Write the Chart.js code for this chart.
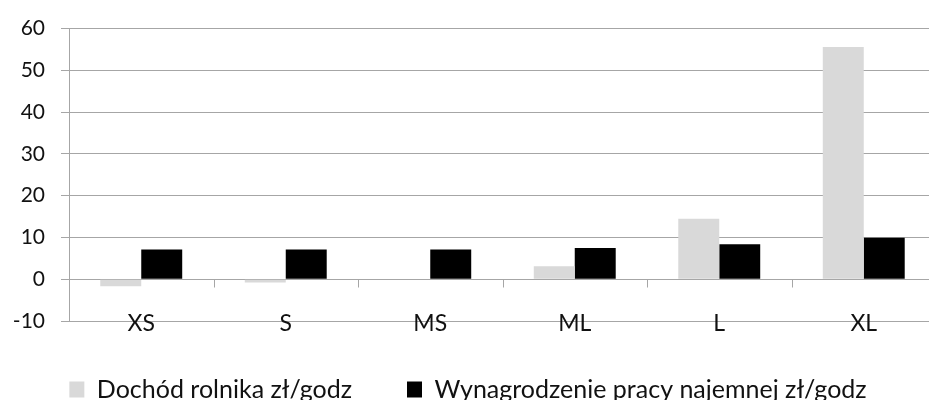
<!DOCTYPE html>
<html>
<head>
<meta charset="utf-8">
<script src="https://cdn.jsdelivr.net/npm/chart.js@4/dist/chart.umd.min.js"></script>
<style>
  html, body { margin: 0; padding: 0; background: #fff; overflow: hidden; }
  #wrap { position: relative; width: 936px; height: 412px; }
</style>
</head>
<body>
<div id="wrap"><canvas id="myChart"></canvas></div>
<script>
// data
const categories = ['XS', 'S', 'MS', 'ML', 'L', 'XL'];
const farmerIncome = [-1.7, -0.8, 0, 3.1, 14.5, 55.6];
const hiredWage = [7.1, 7.1, 7.1, 7.5, 8.4, 9.9];
const seriesNames = ['Dochód rolnika zł/godz', 'Wynagrodzenie pracy najemnej zł/godz'];
const yTicks = [-10, 0, 10, 20, 30, 40, 50, 60];

const gridColor = '#a6a6a6';
const textColor = '#111';
const font = 'Lato';

// small tick marks between categories on the zero line (Excel style)
const zeroTicks = {
    id: 'zeroTicks',
    afterDatasetsDraw(chart) {
        const {ctx, scales: {x, y}} = chart;
        const y0 = Math.round(y.getPixelForValue(0)) + 0.5;
        ctx.save();
        ctx.strokeStyle = gridColor;
        ctx.lineWidth = 1;
        ctx.beginPath();
        for (let i = 1; i < categories.length; i++) {
            const px = Math.round(x.getPixelForValue(i - 0.5)) + 0.5;
            ctx.moveTo(px, y0);
            ctx.lineTo(px, y0 + 8);
        }
        ctx.stroke();
        ctx.restore();
    }
};

const ctx = document.getElementById('myChart').getContext('2d');
const myChart = new Chart(ctx, {
    type: 'bar',
    data: {
        labels: categories,
        datasets: [{
            label: seriesNames[0],
            data: farmerIncome,
            backgroundColor: '#d9d9d9',
            borderWidth: 0
        }, {
            label: seriesNames[1],
            data: hiredWage,
            backgroundColor: '#000000',
            borderWidth: 0
        }]
    },
    options: {
        responsive: true,
        maintainAspectRatio: false,
        animation: false,
        datasets: {
            bar: { categoryPercentage: 0.567, barPercentage: 1.0 }
        },
        layout: { padding: { top: 25, right: 0, left: 0, bottom: 0 } },
        scales: {
            x: {
                grid: { display: false },
                border: { display: false },
                ticks: {
                    color: textColor,
                    font: { family: font, size: 23 },
                    // mirrored (no clipping) so the labels sit on the -10 line like the original
                    mirror: true,
                    padding: -16
                },
                afterFit: s => { s.height = 1; }
            },
            y: {
                min: -10,
                max: 60,
                afterBuildTicks: s => { s.ticks = yTicks.map(v => ({value: v})); },
                grid: { color: gridColor, lineWidth: 1, drawTicks: true, tickLength: 8 },
                border: { display: true, color: gridColor, width: 1 },
                ticks: {
                    color: textColor,
                    font: { family: font, size: 21 },
                    padding: 16
                },
                afterFit: s => { s.width = 69; }
            }
        },
        plugins: {
            legend: {
                position: 'bottom',
                labels: {
                    color: textColor,
                    font: { family: font, size: 25 },
                    boxWidth: 15,
                    boxHeight: 16,
                    padding: 55
                }
            },
            tooltip: { enabled: false },
            title: { display: false }
        }
    },
    plugins: [zeroTicks]
});
</script>
</body>
</html>
